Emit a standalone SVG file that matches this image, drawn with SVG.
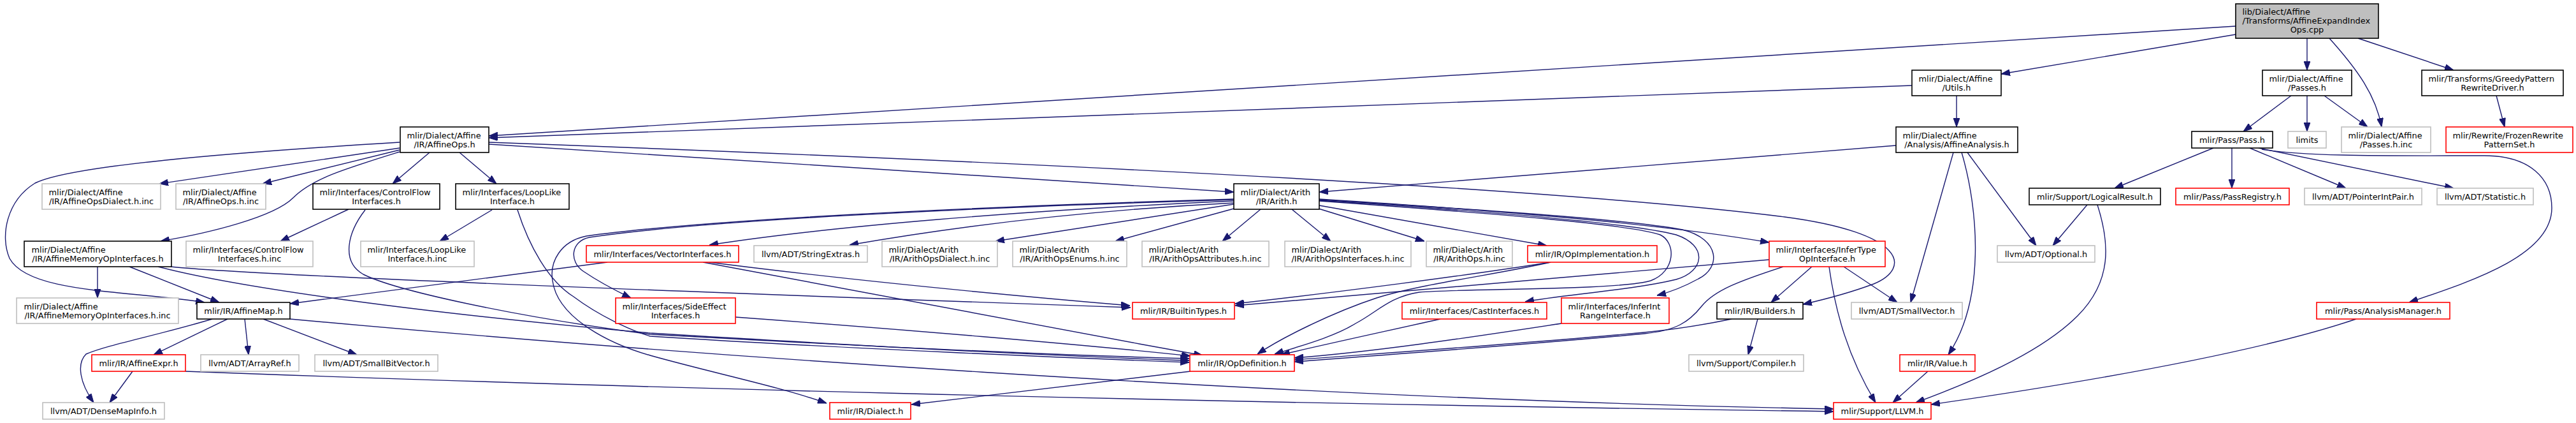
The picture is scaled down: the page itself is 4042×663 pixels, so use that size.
<svg xmlns="http://www.w3.org/2000/svg" width="4042" height="663" viewBox="0 0 4042 663">
<style>
rect{fill:#fff;stroke-width:1.6}
.k rect{stroke:#000}
.g rect{stroke:#bfbfbf}
.r rect{stroke:#ff0000}
.root rect{fill:#bfbfbf;stroke:#000}
text{font-family:"DejaVu Sans","Liberation Sans",sans-serif;font-size:12.9px;fill:#000}
.m{text-anchor:middle}
#edges path{fill:none;stroke:#191970;stroke-width:1.4;marker-end:url(#a)}
</style>
<defs>
<marker id="a" viewBox="0 0 14 10" refX="14" refY="5" markerWidth="14" markerHeight="10" markerUnits="userSpaceOnUse" orient="auto"><path d="M0,0L14,5L0,10z" fill="#191970" stroke="#191970" stroke-width="1"/></marker>
</defs>
<rect x="0" y="0" width="4042" height="663" style="fill:#fff;stroke:none"/>
<g id="edges">
<path d="M3508,54L3140,116"/>
<path d="M3508,41L767,213"/>
<path d="M3620,60L3620,110"/>
<path d="M3655,60C3700,110 3728,150 3737,199"/>
<path d="M3700,60L3850,110"/>
<path d="M3000,134L767,216"/>
<path d="M3070,150L3070,199"/>
<path d="M3595,150L3520,206"/>
<path d="M3620,150L3620,206"/>
<path d="M3647,150L3715,199"/>
<path d="M3917,150L3930,199"/>
<path d="M3473,232L3318,295"/>
<path d="M3502,232L3502,295"/>
<path d="M3530,232L3681,295"/>
<path d="M3544,232L3850,295"/>
<path d="M3549,234C3620,246 3760,244 3898,244C3970,244 4004,280 4004,326C4004,400 3880,440 3780,474"/>
<path d="M3275,321L3221,385"/>
<path d="M3291,321C3310,380 3315,440 3260,495C3200,555 3090,600 3006,631"/>
<path d="M3697,500C3550,550 3300,595 3030,634"/>
<path d="M2975,228L2070,301"/>
<path d="M3065,239L2998,474"/>
<path d="M3078,239C3105,330 3115,470 3057,556"/>
<path d="M3087,239L3195,385"/>
<path d="M767,226L1936,301"/>
<path d="M767,223C1500,250 2400,290 2800,340C2990,365 3000,420 2940,445C2900,460 2860,470 2829,477"/>
<path d="M627,232L250,288"/>
<path d="M627,235L412,288"/>
<path d="M627,238C540,265 490,280 460,310C430,340 330,365 252,378"/>
<path d="M627,223C350,240 110,260 55,287C10,315 0,370 15,405C45,460 200,455 321,474"/>
<path d="M674,239L616,288"/>
<path d="M721,239L779,288"/>
<path d="M153,418L153,467"/>
<path d="M203,418L344,474"/>
<path d="M268,418C380,430 1000,455 1774,482"/>
<path d="M248,418C350,445 600,485 1020,522C1400,545 1700,560 1866,565"/>
<path d="M547,328L440,378"/>
<path d="M573,329C545,365 535,410 570,430C620,455 800,495 1020,524C1400,545 1700,558 1866,562"/>
<path d="M772,329L690,378"/>
<path d="M812,329C830,385 860,440 900,465C940,495 990,518 1020,527C1300,545 1700,562 1866,568"/>
<path d="M1936,312C1500,325 1100,345 920,370C880,378 862,410 867,440C875,500 960,540 1020,557C1120,585 1220,605 1297,632"/>
<path d="M1936,313C1500,326 1100,346 925,372C895,378 893,410 915,425C940,442 965,455 990,467"/>
<path d="M1936,315C1600,330 1300,355 1113,384"/>
<path d="M1936,318C1700,330 1500,355 1333,384"/>
<path d="M1936,320L1562,378"/>
<path d="M1936,327L1750,378"/>
<path d="M1978,328L1918,378"/>
<path d="M2027,328L2088,378"/>
<path d="M2069,327L2235,378"/>
<path d="M2070,322L2427,385"/>
<path d="M2070,312C2350,330 2600,350 2776,380"/>
<path d="M2070,313C2350,330 2560,345 2640,360C2700,375 2700,420 2665,437C2645,448 2620,458 2600,463"/>
<path d="M2070,314C2350,332 2560,350 2630,368C2680,385 2675,425 2630,438C2560,455 2450,462 2393,473"/>
<path d="M2070,315C2350,335 2560,352 2605,368C2630,380 2630,425 2590,440C2540,455 2300,452 2227,458C2180,465 2160,490 2127,507C2090,530 2030,545 2000,555"/>
<path d="M2433,411C2300,432 2100,458 1938,476"/>
<path d="M2433,411C2350,430 2230,445 2160,467C2090,490 2010,530 1973,555"/>
<path d="M2776,407C2500,430 2200,458 1938,479"/>
<path d="M2843,418L2779,474"/>
<path d="M2893,418L2977,474"/>
<path d="M2870,418C2880,490 2900,560 2943,631"/>
<path d="M2798,418C2730,440 2690,455 2670,480C2650,505 2630,518 2580,523C2400,540 2150,558 2031,567"/>
<path d="M2758,500L2743,556"/>
<path d="M2717,500C2660,512 2610,518 2580,521C2400,538 2150,555 2031,564"/>
<path d="M2260,500C2180,518 2100,535 2010,556"/>
<path d="M2450,507C2300,530 2150,552 2031,561"/>
<path d="M953,411L455,476"/>
<path d="M1113,411C1300,435 1550,460 1773,479"/>
<path d="M1103,411C1300,450 1600,505 1887,557"/>
<path d="M1154,497C1400,515 1700,540 1868,558"/>
<path d="M1868,582L1430,634"/>
<path d="M3025,582L2970,631"/>
<path d="M357,500L241,556"/>
<path d="M384,500L390,556"/>
<path d="M413,500L560,556"/>
<path d="M333,500C250,525 170,540 135,555C120,570 125,600 147,631"/>
<path d="M455,500C1000,550 2000,625 2877,641"/>
<path d="M291,582C900,605 1800,630 2877,645"/>
<path d="M208,582L172,631"/>
</g>
<g id="root" class="root"><rect x="3508" y="6" width="224" height="54"/><text x="3518.5" y="23">lib/Dialect/Affine</text><text x="3518.5" y="37">/Transforms/AffineExpandIndex</text><text class="m" x="3620" y="51">Ops.cpp</text></g>
<g id="utils" class="k"><rect x="3000" y="110" width="140" height="40"/><text x="3010.5" y="127.5">mlir/Dialect/Affine</text><text class="m" x="3070" y="141.5">/Utils.h</text></g>
<g id="passes" class="k"><rect x="3550" y="110" width="140" height="40"/><text x="3560.5" y="127.5">mlir/Dialect/Affine</text><text class="m" x="3620" y="141.5">/Passes.h</text></g>
<g id="greedy" class="k"><rect x="3800" y="110" width="222" height="40"/><text x="3810.5" y="127.5">mlir/Transforms/GreedyPattern</text><text class="m" x="3911" y="141.5">RewriteDriver.h</text></g>
<g id="affineops" class="k"><rect x="628" y="199" width="139" height="40"/><text x="638.5" y="216.5">mlir/Dialect/Affine</text><text class="m" x="697.5" y="230.5">/IR/AffineOps.h</text></g>
<g id="affineanalysis" class="k"><rect x="2975" y="199" width="191" height="40"/><text x="2985.5" y="216.5">mlir/Dialect/Affine</text><text class="m" x="3070.5" y="230.5">/Analysis/AffineAnalysis.h</text></g>
<g id="passh" class="k"><rect x="3439" y="206" width="127" height="26"/><text class="m" x="3502.5" y="223.5">mlir/Pass/Pass.h</text></g>
<g id="limits" class="g"><rect x="3590" y="206" width="60" height="26"/><text class="m" x="3620" y="223.5">limits</text></g>
<g id="passesinc" class="g"><rect x="3674" y="199" width="140" height="40"/><text x="3684.5" y="216.5">mlir/Dialect/Affine</text><text class="m" x="3744" y="230.5">/Passes.h.inc</text></g>
<g id="frozen" class="r"><rect x="3838" y="199" width="199" height="40"/><text x="3848.5" y="216.5">mlir/Rewrite/FrozenRewrite</text><text class="m" x="3937.5" y="230.5">PatternSet.h</text></g>
<g id="affopsdialect" class="g"><rect x="66" y="288" width="186" height="40"/><text x="76.5" y="305.5">mlir/Dialect/Affine</text><text class="m" x="159" y="319.5">/IR/AffineOpsDialect.h.inc</text></g>
<g id="affopsinc" class="g"><rect x="276" y="288" width="141" height="40"/><text x="286.5" y="305.5">mlir/Dialect/Affine</text><text class="m" x="346.5" y="319.5">/IR/AffineOps.h.inc</text></g>
<g id="cfi" class="k"><rect x="491" y="288" width="199" height="40"/><text x="501.5" y="305.5">mlir/Interfaces/ControlFlow</text><text class="m" x="590.5" y="319.5">Interfaces.h</text></g>
<g id="looplike" class="k"><rect x="715" y="288" width="178" height="40"/><text x="725.5" y="305.5">mlir/Interfaces/LoopLike</text><text class="m" x="804" y="319.5">Interface.h</text></g>
<g id="arith" class="k"><rect x="1936" y="288" width="134" height="40"/><text x="1946.5" y="305.5">mlir/Dialect/Arith</text><text class="m" x="2003" y="319.5">/IR/Arith.h</text></g>
<g id="logical" class="k"><rect x="3184" y="295" width="206" height="26"/><text class="m" x="3287" y="312.5">mlir/Support/LogicalResult.h</text></g>
<g id="passreg" class="r"><rect x="3414" y="295" width="178" height="26"/><text class="m" x="3503" y="312.5">mlir/Pass/PassRegistry.h</text></g>
<g id="pip" class="g"><rect x="3616" y="295" width="184" height="26"/><text class="m" x="3708" y="312.5">llvm/ADT/PointerIntPair.h</text></g>
<g id="statistic" class="g"><rect x="3824" y="295" width="151" height="26"/><text class="m" x="3899.5" y="312.5">llvm/ADT/Statistic.h</text></g>
<g id="affmemop" class="k"><rect x="38" y="378" width="231" height="40"/><text x="49.5" y="395.5">mlir/Dialect/Affine</text><text class="m" x="153.5" y="409.5">/IR/AffineMemoryOpInterfaces.h</text></g>
<g id="cfiinc" class="g"><rect x="292" y="378" width="199" height="40"/><text x="302.5" y="395.5">mlir/Interfaces/ControlFlow</text><text class="m" x="391.5" y="409.5">Interfaces.h.inc</text></g>
<g id="looplikeinc" class="g"><rect x="566" y="378" width="178" height="40"/><text x="576.5" y="395.5">mlir/Interfaces/LoopLike</text><text class="m" x="655" y="409.5">Interface.h.inc</text></g>
<g id="vector" class="r"><rect x="920" y="385" width="239" height="26"/><text class="m" x="1039.5" y="402.5">mlir/Interfaces/VectorInterfaces.h</text></g>
<g id="stringextras" class="g"><rect x="1183" y="385" width="178" height="26"/><text class="m" x="1272" y="402.5">llvm/ADT/StringExtras.h</text></g>
<g id="arithdialect" class="g"><rect x="1384" y="378" width="181" height="40"/><text x="1394.5" y="395.5">mlir/Dialect/Arith</text><text class="m" x="1474.5" y="409.5">/IR/ArithOpsDialect.h.inc</text></g>
<g id="arithenums" class="g"><rect x="1589" y="378" width="179" height="40"/><text x="1599.5" y="395.5">mlir/Dialect/Arith</text><text class="m" x="1678.5" y="409.5">/IR/ArithOpsEnums.h.inc</text></g>
<g id="arithattrs" class="g"><rect x="1792" y="378" width="199" height="40"/><text x="1802.5" y="395.5">mlir/Dialect/Arith</text><text class="m" x="1891.5" y="409.5">/IR/ArithOpsAttributes.h.inc</text></g>
<g id="arithifaces" class="g"><rect x="2016" y="378" width="198" height="40"/><text x="2026.5" y="395.5">mlir/Dialect/Arith</text><text class="m" x="2115" y="409.5">/IR/ArithOpsInterfaces.h.inc</text></g>
<g id="arithopsinc" class="g"><rect x="2238" y="378" width="135" height="40"/><text x="2248.5" y="395.5">mlir/Dialect/Arith</text><text class="m" x="2305.5" y="409.5">/IR/ArithOps.h.inc</text></g>
<g id="opimpl" class="r"><rect x="2397" y="385" width="203" height="26"/><text class="m" x="2498.5" y="402.5">mlir/IR/OpImplementation.h</text></g>
<g id="infertype" class="r"><rect x="2776" y="378" width="182" height="40"/><text x="2786.5" y="395.5">mlir/Interfaces/InferType</text><text class="m" x="2867" y="409.5">OpInterface.h</text></g>
<g id="optional" class="g"><rect x="3134" y="385" width="153" height="26"/><text class="m" x="3210.5" y="402.5">llvm/ADT/Optional.h</text></g>
<g id="affmemopinc" class="g"><rect x="26" y="467" width="254" height="40"/><text x="37.5" y="484.5">mlir/Dialect/Affine</text><text class="m" x="153" y="498.5">/IR/AffineMemoryOpInterfaces.h.inc</text></g>
<g id="affinemap" class="k"><rect x="309" y="474" width="146" height="26"/><text class="m" x="382" y="491.5">mlir/IR/AffineMap.h</text></g>
<g id="sideeffect" class="r"><rect x="966" y="467" width="188" height="40"/><text x="976.5" y="484.5">mlir/Interfaces/SideEffect</text><text class="m" x="1060" y="498.5">Interfaces.h</text></g>
<g id="builtintypes" class="r"><rect x="1777" y="474" width="160" height="26"/><text class="m" x="1857" y="491.5">mlir/IR/BuiltinTypes.h</text></g>
<g id="cast" class="r"><rect x="2200" y="474" width="227" height="26"/><text class="m" x="2313.5" y="491.5">mlir/Interfaces/CastInterfaces.h</text></g>
<g id="inferint" class="r"><rect x="2450" y="467" width="169" height="40"/><text x="2460.5" y="484.5">mlir/Interfaces/InferInt</text><text class="m" x="2534.5" y="498.5">RangeInterface.h</text></g>
<g id="builders" class="k"><rect x="2694" y="474" width="135" height="26"/><text class="m" x="2761.5" y="491.5">mlir/IR/Builders.h</text></g>
<g id="smallvector" class="g"><rect x="2905" y="474" width="174" height="26"/><text class="m" x="2992" y="491.5">llvm/ADT/SmallVector.h</text></g>
<g id="analysismgr" class="r"><rect x="3635" y="474" width="209" height="26"/><text class="m" x="3739.5" y="491.5">mlir/Pass/AnalysisManager.h</text></g>
<g id="affineexpr" class="r"><rect x="144" y="556" width="147" height="26"/><text class="m" x="217.5" y="573.5">mlir/IR/AffineExpr.h</text></g>
<g id="arrayref" class="g"><rect x="315" y="556" width="154" height="26"/><text class="m" x="392" y="573.5">llvm/ADT/ArrayRef.h</text></g>
<g id="smallbitvector" class="g"><rect x="494" y="556" width="193" height="26"/><text class="m" x="590.5" y="573.5">llvm/ADT/SmallBitVector.h</text></g>
<g id="opdef" class="r"><rect x="1867" y="556" width="164" height="26"/><text class="m" x="1949" y="573.5">mlir/IR/OpDefinition.h</text></g>
<g id="compiler" class="g"><rect x="2650" y="556" width="180" height="26"/><text class="m" x="2740" y="573.5">llvm/Support/Compiler.h</text></g>
<g id="value" class="r"><rect x="2981" y="556" width="118" height="26"/><text class="m" x="3040" y="573.5">mlir/IR/Value.h</text></g>
<g id="densemap" class="g"><rect x="67" y="631" width="191" height="26"/><text class="m" x="162.5" y="648.5">llvm/ADT/DenseMapInfo.h</text></g>
<g id="dialect" class="r"><rect x="1302" y="631" width="127" height="26"/><text class="m" x="1365.5" y="648.5">mlir/IR/Dialect.h</text></g>
<g id="llvm" class="r"><rect x="2877" y="631" width="153" height="26"/><text class="m" x="2953.5" y="648.5">mlir/Support/LLVM.h</text></g>
</svg>
